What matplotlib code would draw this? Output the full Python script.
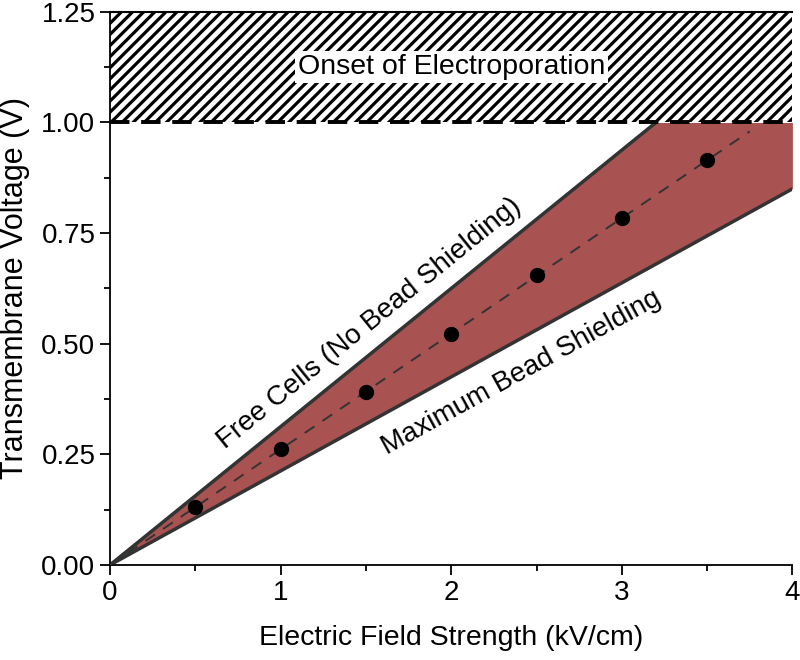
import matplotlib.pyplot as plt
import numpy as np
from matplotlib.ticker import MultipleLocator

plt.rcParams['font.family'] = ['Liberation Sans', 'DejaVu Sans']
plt.rcParams['hatch.linewidth'] = 2.3

# Data
field = [0.5, 1.0, 1.5, 2.0, 2.5, 3.0, 3.5]
vtm = [0.13, 0.262, 0.392, 0.523, 0.655, 0.785, 0.916]
trend_x = [0, 3.75]
trend_y = [0, 0.98]
free_x = [0, 3.2]
free_y = [0, 1.0]
bead_x = [0, 4.0]
bead_y = [0, 0.85]
band_x = [0, 3.2, 4.0]
band_top = [0, 1.0, 1.0]
band_bot = [0, 0.68, 0.85]
threshold = 1.0
ymax = 1.25

fig = plt.figure(figsize=(8, 6.6), dpi=100)
ax = fig.add_axes([0.1375, 0.144, 0.853, 0.838])

ax.fill_between(band_x, band_bot, band_top, color='#a85252', lw=0, zorder=1)
ax.plot(free_x, free_y, color='#333333', lw=2.5, zorder=2)
ax.plot(bead_x, bead_y, color='#333333', lw=2.5, zorder=2)
ax.plot(trend_x, trend_y, color='#333333', lw=1.4, ls=(0, (6, 5)), zorder=3)
ax.plot(field, vtm, 'o', color='black', ms=10, zorder=4)

# electroporation region
ax.fill_between([0, 4], [threshold, threshold], [ymax, ymax], facecolor='white',
                edgecolor='black', hatch='///', lw=0, zorder=1)
ax.plot([0, 4], [ymax, ymax], color='black', lw=1.5, clip_on=False, zorder=5)
ax.plot([0, 4], [threshold, threshold], color='black', lw=2.8, ls=(0, (5, 3)), zorder=5)
ax.text(2, 1.125, 'Onset of Electroporation', ha='center', va='center', fontsize=20.5,
        bbox=dict(facecolor='white', edgecolor='none', pad=2), zorder=6)

ax.set_xlim(0, 4)
ax.set_ylim(0, ymax)

def angle(x0, y0, x1, y1):
    p0 = ax.transData.transform((x0, y0))
    p1 = ax.transData.transform((x1, y1))
    return np.degrees(np.arctan2(p1[1] - p0[1], p1[0] - p0[0]))

ax.text(1.52, 0.545, 'Free Cells (No Bead Shielding)', fontsize=20, ha='center', va='center',
        rotation=angle(free_x[0], free_y[0], free_x[1], free_y[1]), rotation_mode='anchor')
ax.text(2.41, 0.435, 'Maximum Bead Shielding', fontsize=20, ha='center', va='center',
        rotation=angle(bead_x[0], bead_y[0], bead_x[1], bead_y[1]), rotation_mode='anchor')

ax.spines['top'].set_visible(False)
ax.spines['right'].set_visible(False)
ax.spines['left'].set_linewidth(1.3)
ax.spines['bottom'].set_linewidth(1.3)

ax.xaxis.set_major_locator(MultipleLocator(1))
ax.xaxis.set_minor_locator(MultipleLocator(0.5))
ax.yaxis.set_major_locator(MultipleLocator(0.25))
ax.yaxis.set_minor_locator(MultipleLocator(0.125))
ax.set_yticklabels([f'{v:.2f}' for v in ax.get_yticks()])
ax.tick_params(which='major', direction='out', length=7, width=1.3, labelsize=20)
ax.tick_params(which='minor', direction='out', length=4, width=1.3)

ax.set_xlabel('Electric Field Strength (kV/cm)', fontsize=20.5, labelpad=14)
ax.set_ylabel('Transmembrane Voltage (V)', fontsize=22, labelpad=8)

fig.savefig('out.png', dpi=100)
